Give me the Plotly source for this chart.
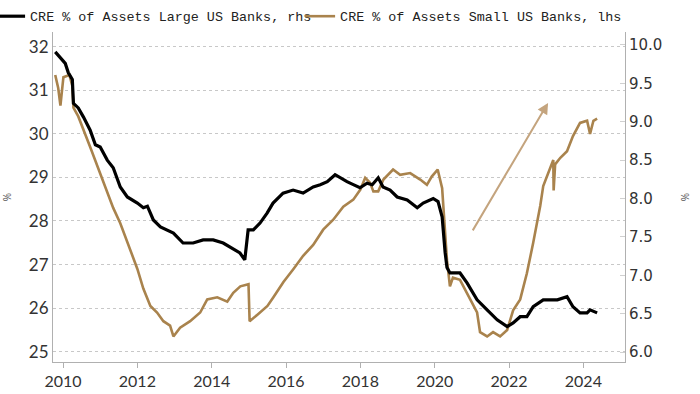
import plotly.graph_objects as go

# ---- data ----
small_years = [2009.79, 2009.87, 2009.93, 2010.01, 2010.17, 2010.25, 2010.28, 2010.41, 2010.73, 2011.00,
               2011.35, 2011.54, 2011.81, 2012.00, 2012.16, 2012.35, 2012.53, 2012.70, 2012.88, 2012.97,
               2013.15, 2013.42, 2013.69, 2013.88, 2014.15, 2014.42, 2014.58, 2014.77, 2014.99, 2015.02,
               2015.23, 2015.50, 2015.66, 2015.93, 2016.20, 2016.46, 2016.73, 2017.00, 2017.27, 2017.54,
               2017.81, 2018.00, 2018.13, 2018.26, 2018.35, 2018.48, 2018.62, 2018.88, 2019.07, 2019.34,
               2019.61, 2019.79, 2019.92, 2020.08, 2020.20, 2020.25, 2020.33, 2020.41, 2020.49, 2020.68,
               2020.87, 2021.14, 2021.22, 2021.41, 2021.57, 2021.76, 2021.95, 2022.11, 2022.30, 2022.48,
               2022.65, 2022.84, 2022.92, 2023.11, 2023.19, 2023.20, 2023.24, 2023.38, 2023.56, 2023.72,
               2023.91, 2024.10, 2024.18, 2024.27, 2024.37]
small_values = [31.35, 31.05, 30.65, 31.30, 31.35, 31.10, 30.60, 30.40, 29.70, 29.10,
                28.30, 27.95, 27.35, 26.90, 26.45, 26.05, 25.90, 25.70, 25.60, 25.35,
                25.55, 25.70, 25.90, 26.20, 26.25, 26.15, 26.35, 26.50, 26.55, 25.70,
                25.85, 26.05, 26.25, 26.60, 26.90, 27.20, 27.45, 27.80, 28.03, 28.33,
                28.49, 28.72, 28.99, 28.88, 28.68, 28.68, 28.95, 29.18, 29.06, 29.10,
                28.95, 28.83, 29.02, 29.18, 28.75, 28.00, 27.10, 26.50, 26.70, 26.65,
                26.35, 25.90, 25.45, 25.35, 25.45, 25.35, 25.50, 25.95, 26.20, 26.80,
                27.50, 28.35, 28.80, 29.20, 29.40, 28.70, 29.30, 29.45, 29.60, 29.95,
                30.25, 30.30, 30.00, 30.30, 30.35]

large_years = [2009.79, 2009.93, 2010.06, 2010.14, 2010.25, 2010.28, 2010.41, 2010.55, 2010.73, 2010.87,
               2011.00, 2011.19, 2011.35, 2011.54, 2011.73, 2012.00, 2012.16, 2012.27, 2012.43, 2012.62,
               2012.81, 2012.97, 2013.23, 2013.50, 2013.77, 2014.04, 2014.31, 2014.49, 2014.76, 2014.89,
               2014.98, 2015.12, 2015.30, 2015.49, 2015.65, 2015.92, 2016.19, 2016.46, 2016.73, 2016.92,
               2017.11, 2017.32, 2017.45, 2017.64, 2017.81, 2017.99, 2018.18, 2018.32, 2018.48, 2018.61,
               2018.80, 2018.99, 2019.26, 2019.53, 2019.69, 2019.96, 2020.09, 2020.20, 2020.28, 2020.33,
               2020.41, 2020.68, 2020.87, 2021.14, 2021.41, 2021.68, 2021.95, 2022.11, 2022.30, 2022.48,
               2022.65, 2022.92, 2023.11, 2023.30, 2023.56, 2023.72, 2023.91, 2024.10, 2024.18, 2024.37]
large_values = [9.91, 9.83, 9.76, 9.64, 9.55, 9.24, 9.18, 9.06, 8.89, 8.70,
                8.67, 8.50, 8.40, 8.15, 8.02, 7.94, 7.88, 7.90, 7.72, 7.63,
                7.59, 7.55, 7.42, 7.42, 7.46, 7.46, 7.42, 7.37, 7.29, 7.20,
                7.59, 7.59, 7.68, 7.81, 7.94, 8.07, 8.11, 8.07, 8.15, 8.18,
                8.22, 8.31, 8.27, 8.22, 8.18, 8.14, 8.20, 8.18, 8.27, 8.15,
                8.11, 8.02, 7.98, 7.88, 7.94, 8.00, 7.96, 7.76, 7.30, 7.10,
                7.03, 7.03, 6.90, 6.68, 6.55, 6.42, 6.33, 6.38, 6.46, 6.46,
                6.59, 6.68, 6.68, 6.68, 6.72, 6.59, 6.51, 6.51, 6.55, 6.51]

x_ticks = [2010, 2012, 2014, 2016, 2018, 2020, 2022, 2024]
left_ticks = [25, 26, 27, 28, 29, 30, 31, 32]
right_ticks = [6.0, 6.5, 7.0, 7.5, 8.0, 8.5, 9.0, 9.5, 10.0]

large_name = "CRE % of Assets Large US Banks, rhs"
small_name = "CRE % of Assets Small US Banks, lhs"

# arrow annotation (data units, left axis)
arrow_tail = (2021.00, 27.75)
arrow_head = (2023.05, 30.71)

BLACK = "#000000"
GOLD = "#A9834D"
ARROW = "#C4A47E"

legend_font = dict(family="Liberation Mono", size=13.4, color="#222")

fig = go.Figure()
fig.add_trace(go.Scatter(x=large_years, y=large_values, name=large_name, yaxis="y2",
                         mode="lines", line=dict(color=BLACK, width=3.2), legend="legend"))
fig.add_trace(go.Scatter(x=small_years, y=small_values, name=small_name, yaxis="y",
                         mode="lines", line=dict(color=GOLD, width=2.6), legend="legend2"))

fig.add_annotation(x=arrow_head[0], y=arrow_head[1], ax=arrow_tail[0], ay=arrow_tail[1],
                   xref="x", yref="y", axref="x", ayref="y", text="", showarrow=True,
                   arrowhead=2, arrowsize=1.1, arrowwidth=2, arrowcolor=ARROW)

fig.update_layout(
    width=700, height=394,
    margin=dict(l=53, r=75, t=32, b=32, autoexpand=False),
    paper_bgcolor="white", plot_bgcolor="white",
    showlegend=True,
    legend=dict(orientation="h", x=-0.110, xanchor="left", y=1.094, yanchor="top",
                font=legend_font, itemwidth=30, bgcolor="rgba(0,0,0,0)", itemclick=False),
    legend2=dict(orientation="h", x=0.432, xanchor="left", y=1.094, yanchor="top",
                 font=legend_font, itemwidth=30, bgcolor="rgba(0,0,0,0)", itemclick=False),
    xaxis=dict(range=[2009.73, 2025.12], tickvals=x_ticks, ticktext=[str(t) for t in x_ticks],
               ticks="outside", ticklen=5, tickcolor="#b0b0b0", showline=True, linecolor="#b0b0b0",
               linewidth=1, showgrid=False, zeroline=False,
               tickfont=dict(family="Lato", size=16, color="#333")),
    yaxis=dict(range=[24.764, 32.337], tickvals=left_ticks, ticks="", showline=True,
               linecolor="#b0b0b0", linewidth=1, showgrid=True, gridcolor="#c8c8c8",
               griddash="dot", gridwidth=1, zeroline=False,
               tickfont=dict(family="Lato", size=17, color="#333"),
               title=dict(text="%", font=dict(size=10, color="#555"), standoff=15)),
    yaxis2=dict(range=[5.870, 10.169], tickvals=right_ticks, tickformat=".1f", overlaying="y",
                side="right", ticks="inside", ticklen=5, tickcolor="#d0d0d0", showline=True,
                linecolor="#b0b0b0", linewidth=1, showgrid=False, zeroline=False,
                tickfont=dict(family="DejaVu Sans", size=15, color="#333"),
                title=dict(text="%", font=dict(size=10, color="#555"), standoff=20)),
)

fig.write_html("out.html", config={"displayModeBar": False},
               post_script="document.body.style.margin='0';document.body.style.overflow='hidden';")
